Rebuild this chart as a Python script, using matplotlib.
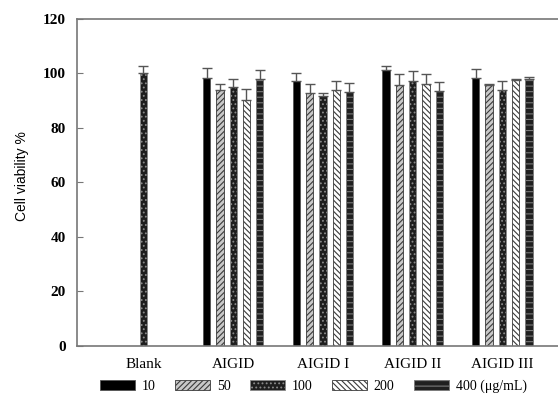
import numpy as np
import matplotlib
matplotlib.use("Agg")
from matplotlib import pyplot as plt
from matplotlib.patches import Patch

groups = ["Blank", "AIGID", "AIGID I", "AIGID II", "AIGID III"]
doses = ["10", "50", "100", "200", "400 (\u03bcg/mL)"]

# viability per dose, one value per group (Blank only has a control bar)
v10 = [np.nan, 98.2, 97.2, 101.3, 98.2]
v50 = [np.nan, 93.9, 92.7, 95.8, 95.9]
v100 = [100.0, 95.0, 91.7, 97.2, 93.9]
v200 = [np.nan, 90.3, 93.8, 96.1, 97.6]
v400 = [np.nan, 97.9, 93.2, 93.7, 97.9]

e10 = [np.nan, 3.7, 2.9, 1.5, 3.3]
e50 = [np.nan, 2.2, 3.6, 3.9, 0.3]
e100 = [2.7, 3.0, 1.3, 3.8, 3.4]
e200 = [np.nan, 3.9, 3.4, 3.8, 0.3]
e400 = [np.nan, 3.4, 3.4, 3.1, 0.9]

values = [v10, v50, v100, v200, v400]
errors = [e10, e50, e100, e200, e400]

styles = [
    dict(facecolor="black", edgecolor="#555555", hatch=None),
    dict(facecolor="#c8c8c8", edgecolor="#3a3a3a", hatch="//////"),
    dict(facecolor="#1e1e1e", edgecolor="#8a8a8a", hatch="...."),
    dict(facecolor="white", edgecolor="#3a3a3a", hatch="\\\\\\\\\\\\"),
    dict(facecolor="#202020", edgecolor="#7a7a7a", hatch="---"),
]

plt.rcParams["hatch.linewidth"] = 0.8
serif = ["Liberation Serif", "DejaVu Serif"]

fig = plt.figure(figsize=(5.58, 4.04), dpi=100)
ax = fig.add_axes([0.138, 0.1436, 0.862, 0.8094])

x = np.arange(len(groups))
width = 0.081
step = 0.148

for i, (vals, errs, st) in enumerate(zip(values, errors, styles)):
    pos = x + (i - 2) * step
    vals = np.array(vals)
    errs = np.array(errs)
    ok = ~np.isnan(vals)
    ax.bar(pos[ok], vals[ok], width, facecolor=st["facecolor"],
           edgecolor=st["edgecolor"], hatch=st["hatch"], linewidth=0.6, zorder=2)
    ax.errorbar(pos[ok], vals[ok], yerr=[np.zeros(ok.sum()), errs[ok]],
                fmt="none", ecolor="#555555", elinewidth=1.0, capsize=3.5,
                capthick=1.0, zorder=3)

ax.set_xlim(-0.741, 4.62)
ax.set_ylim(0, 120)
ax.set_yticks(np.arange(0, 121, 20))
ax.set_xticks(x)
ax.set_xticklabels(groups, fontfamily=serif, fontsize=11)
ax.tick_params(axis="x", length=0, pad=9)
ax.tick_params(axis="y", direction="in", length=4, color="#777777", pad=8)
for lab in ax.get_yticklabels():
    lab.set_fontfamily(serif)
    lab.set_fontsize(11)
    lab.set_fontweight("bold")

for side in ["left", "bottom", "top"]:
    ax.spines[side].set_color("#777777")
    ax.spines[side].set_linewidth(1.2)
ax.spines["right"].set_visible(False)

ax.set_ylabel("Cell viability %", fontfamily=["Liberation Sans", "DejaVu Sans"],
              fontsize=10)
ax.yaxis.set_label_coords(-0.100, 0.52)

handles = [Patch(facecolor=st["facecolor"], edgecolor=st["edgecolor"],
                 hatch=st["hatch"], linewidth=0.6) for st in styles]
fig.legend(handles, doses, loc="center", bbox_to_anchor=(0.562, 0.044), ncol=5,
           frameon=False, handlelength=2.5, handleheight=0.65,
           handletextpad=0.5, columnspacing=1.4,
           prop={"family": serif, "size": 10})

fig.savefig("out.png", dpi=100)
